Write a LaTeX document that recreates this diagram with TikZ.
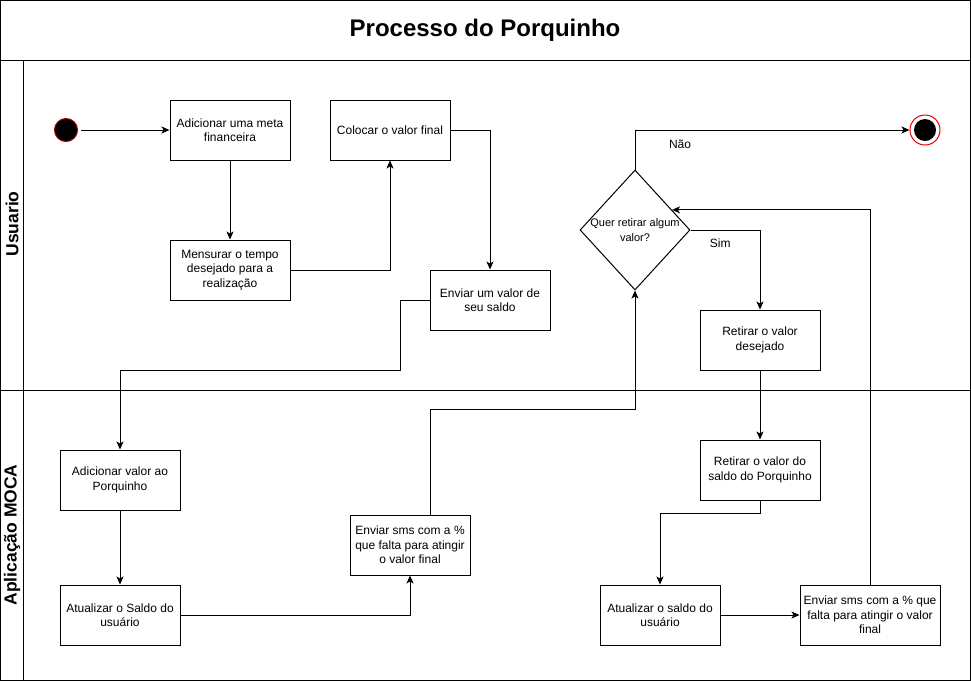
\documentclass[tikz,border=0pt]{standalone}
\usepackage{fontspec}
\setmainfont{Liberation Sans}
\usetikzlibrary{
	arrows.meta,
	calc,
	positioning,
	shapes.geometric
}
\tikzset{every path/.append style={line width=1pt}}
\tikzset{every path/.append style={>={Stealth[length=8pt,width=7pt,inset=2pt]}}}
\tikzset{
	box/.style={draw,rectangle,minimum width=120pt,minimum height=60pt,inner sep=2pt,align=center,font=\fontsize{12}{14.5}\selectfont},
	startdot/.style={circle,fill=black,draw=red!60!black,minimum size=23pt,inner sep=0pt},
	enddot/.style={circle,fill=white,draw=red!90!black,minimum size=30pt,inner sep=0pt,
		path picture={\fill[black] (path picture bounding box.center) circle (11pt);}},
	choice/.style={draw,diamond,minimum width=110pt,minimum height=120pt,inner sep=0pt},
	lanelabel/.style={rotate=90,font=\bfseries\fontsize{17.5}{21}\selectfont},
	edgelabel/.style={font=\fontsize{12}{14}\selectfont}
}
\newcommand{\tikzBox}[3]{\node (#3) at #1 [box]{#2};}

\begin{document}
\begin{tikzpicture}[x=1pt,y=-1pt]
					\useasboundingbox (0,0) rectangle (971,681);
					\draw (0.5,0.5) rectangle (970.5,680.5);
					\draw (0.5,60) -- (970.5,60);
					\draw (0.5,390) -- (970.5,390);
					\draw (23,60) -- (23,680.5);
					
					\node (titulo) at (485,30) [font=\bfseries\fontsize{24}{28}\selectfont] {Processo do Porquinho};
					\node (usuario) at (12,224) [lanelabel] {Usuario};
					\node (moca) at (12,535) [lanelabel] {Aplicação MOCA};
					
					\node (ini) at (66,130) [startdot] {};
					\tikzBox{(230,130)}{Adicionar uma meta\\financeira}{meta}
					\tikzBox{(230,270)}{Mensurar o tempo\\desejado para a\\realização}{tempo}
					\tikzBox{(390,130)}{Colocar o valor final}{final}
					\tikzBox{(490,300)}{Enviar um valor de\\seu saldo}{envio}
					
					\tikzBox{(120,480)}{Adicionar valor ao\\Porquinho}{addval}
					\tikzBox{(120,615)}{Atualizar o Saldo do\\usuário}{atual}
					\tikzBox{(410,545)}{Enviar sms com a \%\\que falta para atingir\\o valor final}{sms}
					
					\node (quer) at (635,230) [choice,label={[align=center,font=\fontsize{11}{15}\selectfont]center:{Quer retirar algum\\valor?}}] {};
					\node (fim) at (925,130) [enddot] {};
					\tikzBox{(760,340)}{Retirar o valor\\desejado}{retirar}
					\tikzBox{(760,470)}{Retirar o valor do\\saldo do Porquinho}{retsaldo}
					\tikzBox{(660,615)}{Atualizar o saldo do\\usuário}{atual2}
					\node (sms2) at (870,615) [box,minimum width=140pt] {Enviar sms com a \% que\\falta para atingir o valor\\final};
					\coordinate (querin) at ($(quer.north)!0.667!(quer.east)$);
					
					\draw[->,shorten <=3pt] (ini) -- (meta);
					\draw[->] (meta) -- (tempo);
					\draw[->] (tempo) -| (final);
					\draw[->] (final) -| (envio);
					\draw[->] (envio.west) -| (400,370) -| (addval);
					\draw[->] (addval) -- (atual);
					\draw[->] (atual) -| (sms);
					\draw[->] ([xshift=20pt]sms.north) -- ++(0,-105) -| (quer);
					
					\draw[->] (quer) |- node[pos=0.582,below=6pt,edgelabel] {Não} (fim);
					\draw[->] (quer) -| node[pos=0.214,below=5pt,edgelabel] {Sim} (retirar);
					\draw[->] (retirar) -- (retsaldo);
					\draw[->] (retsaldo) -- ++(0,43) -| (atual2);
					\draw[->] (atual2) -- (sms2);
					\draw[->] (sms2) |- (querin);
				\end{tikzpicture}
\end{document}
